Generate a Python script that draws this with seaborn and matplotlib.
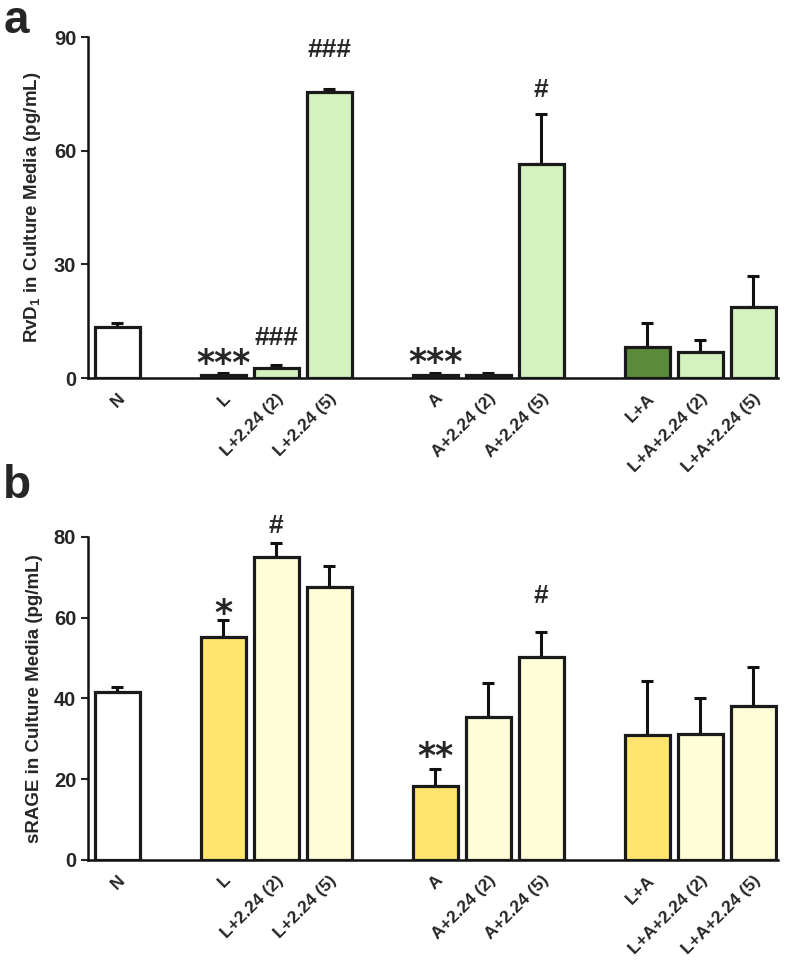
import numpy as np
import pandas as pd
import seaborn as sns
import matplotlib.pyplot as plt

sns.set_style("ticks")
plt.rcParams['font.family'] = ['Liberation Sans', 'DejaVu Sans']
plt.rcParams['font.weight'] = 'bold'
plt.rcParams['mathtext.default'] = 'regular'

# groups of conditions (a blank slot is left between groups)
groups = [["N"],
          ["L", "L+2.24 (2)", "L+2.24 (5)"],
          ["A", "A+2.24 (2)", "A+2.24 (5)"],
          ["L+A", "L+A+2.24 (2)", "L+A+2.24 (5)"]]
labels = [c for g in groups for c in g]

# panel a: RvD1
rvd1_mean = [13.5, 0.8, 2.6, 75.5, 0.8, 0.8, 56.5, 8.2, 6.8, 18.8]
rvd1_err = [1.0, 0.5, 0.8, 0.7, 0.5, 0.5, 13.2, 6.3, 3.2, 8.1]
rvd1_kind = ["none", "base", "drug", "drug", "base", "base", "drug", "base", "drug", "drug"]
rvd1_marks = {"L": "***", "L+2.24 (2)": "###", "L+2.24 (5)": "###", "A": "***", "A+2.24 (5)": "#"}
rvd1_mark_y = {"L": 3.8, "L+2.24 (2)": 10.6, "L+2.24 (5)": 86.5, "A": 4.0, "A+2.24 (5)": 76.0}

# panel b: sRAGE
srage_mean = [41.6, 55.2, 75.0, 67.6, 18.3, 35.4, 50.2, 30.9, 31.2, 38.1]
srage_err = [1.3, 4.2, 3.5, 5.2, 4.2, 8.4, 6.2, 13.4, 8.9, 9.7]
srage_kind = ["none", "base", "drug", "drug", "base", "drug", "drug", "base", "drug", "drug"]
srage_marks = {"L": "*", "L+2.24 (2)": "#", "A": "**", "A+2.24 (5)": "#"}
srage_mark_y = {"L": 61.0, "L+2.24 (2)": 82.7, "A": 25.4, "A+2.24 (5)": 65.3}

green = {"none": "white", "base": "#5a8a3a", "drug": "#d3f2c0"}
yellow = {"none": "white", "base": "#ffe56e", "drug": "#fffcd8"}

# x positions: consecutive inside a group, one empty slot between groups
pos = []
p = 0
for g in groups:
    for c in g:
        pos.append(p)
        p += 1
    p += 1


def panel(ax, mean, err, kind, colors, marks, mark_y, ymax, step, ylabel):
    df = pd.DataFrame({"pos": pos, "label": labels, "mean": mean, "kind": kind})
    sns.barplot(data=df, x="pos", y="mean", hue="kind", palette=colors,
                native_scale=True, width=0.85, dodge=False, legend=False,
                saturation=1, edgecolor="#1a1a1a", linewidth=2.3, ax=ax, zorder=3)
    ax.errorbar(df["pos"], df["mean"], yerr=[np.zeros(len(err)), err],
                fmt="none", ecolor="#111111", elinewidth=2.2, capsize=4,
                capthick=2.2, zorder=2)
    for lab, txt in marks.items():
        x = pos[labels.index(lab)]
        if "*" in txt:
            ax.text(x, mark_y[lab], txt, ha="center", va="center",
                    fontsize=25, fontweight="bold", family="DejaVu Sans",
                    clip_on=False)
        else:
            ax.text(x, mark_y[lab], txt, ha="center", va="center",
                    fontsize=19, fontweight="bold", clip_on=False)
    ax.set_xlim(-0.55, 12.47)
    ax.set_ylim(0, ymax)
    ax.set_yticks(np.arange(0, ymax + 1, step))
    ax.set_xticks(pos)
    ax.set_xticklabels(labels, rotation=45, ha="right", rotation_mode="anchor",
                       fontsize=12.5, fontweight="bold")
    ax.tick_params(axis="x", length=0, pad=9)
    ax.tick_params(axis="y", length=5, width=1.5, labelsize=14.5, direction="out")
    for t in ax.get_yticklabels():
        t.set_fontweight("bold")
    ax.set_xlabel("")
    ax.set_ylabel(ylabel, fontsize=13.5, fontweight="bold", labelpad=8)
    sns.despine(ax=ax)
    for s in ["left", "bottom"]:
        ax.spines[s].set_linewidth(1.8)
        ax.spines[s].set_color("#111111")


fig = plt.figure(figsize=(7.86, 9.67), dpi=100)
ax1 = fig.add_axes([0.112, 0.609, 0.878, 0.3527])
ax2 = fig.add_axes([0.112, 0.1107, 0.878, 0.334])

panel(ax1, rvd1_mean, rvd1_err, rvd1_kind, green, rvd1_marks, rvd1_mark_y,
      90, 30, "RvD$_1$ in Culture Media (pg/mL)")
panel(ax2, srage_mean, srage_err, srage_kind, yellow, srage_marks, srage_mark_y,
      80, 20, "sRAGE in Culture Media (pg/mL)")

fig.text(0.004, 0.978, "a", fontsize=33, fontweight="bold", va="center")
fig.text(0.004, 0.497, "b", fontsize=33, fontweight="bold", va="center")

fig.savefig("out.png", dpi=100)
